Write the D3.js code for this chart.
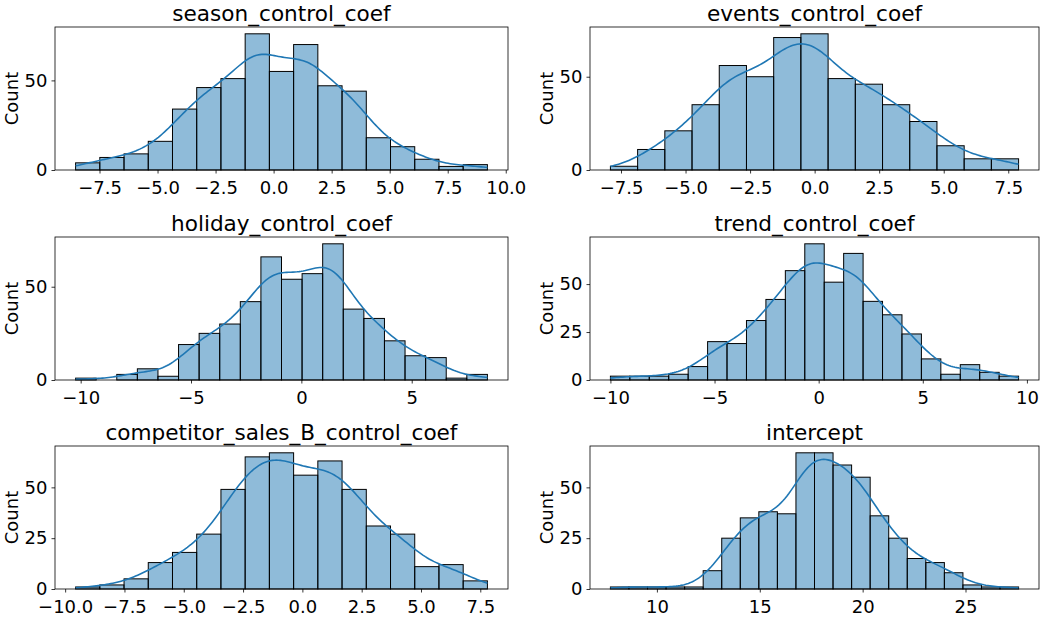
<!DOCTYPE html>
<html>
<head>
<meta charset="utf-8">
<script src="https://cdn.jsdelivr.net/npm/d3@7"></script>
<style>
body { margin: 0; background: #fff; }
text { font-family: "DejaVu Sans", sans-serif; }
</style>
</head>
<body>
<svg id="chart" width="1046" height="619"></svg>
<script>
const titles = ["season_control_coef", "events_control_coef", "holiday_control_coef",
    "trend_control_coef", "competitor_sales_B_control_coef", "intercept"]

// histogram counts per panel
const seasonCounts = [4, 7, 9, 16, 34, 46, 51, 76, 55, 70, 47, 44, 18, 13, 6, 2, 3]
const eventsCounts = [2, 11, 21, 35, 56, 50, 71, 73, 49, 46, 35, 26, 13, 6, 6]
const holidayCounts = [1, 0, 3, 6, 2, 19, 25, 30, 42, 66, 54, 57, 73, 38, 33, 21, 13, 12, 1, 3]
const trendCounts = [2, 2, 2, 3, 7, 20, 19, 31, 42, 57, 71, 51, 66, 41, 34, 24, 11, 3, 8, 4, 2]
const competitorCounts = [1, 2, 5, 13, 18, 27, 49, 65, 67, 56, 63, 49, 31, 27, 11, 12, 4]
const interceptCounts = [1, 1, 1, 1, 1, 9, 25, 35, 38, 37, 67, 67, 61, 55, 36, 25, 15, 13, 8, 2, 1, 1]

// first and last bin edge of each panel
const binRanges = [[-8.53, 9.21], [-7.91, 7.9], [-10.23, 8.43], [-10.0, 9.6], [-9.56, 7.80], [7.74, 27.58]]

const xTicks = [
    [-7.5, -5, -2.5, 0, 2.5, 5, 7.5, 10],
    [-7.5, -5, -2.5, 0, 2.5, 5, 7.5],
    [-10, -5, 0, 5],
    [-10, -5, 0, 5, 10],
    [-10, -7.5, -5, -2.5, 0, 2.5, 5, 7.5],
    [10, 15, 20, 25]
]
const xDecimals = [1, 1, 0, 0, 1, 0]
const yTicks = [[0, 50], [0, 50], [0, 50], [0, 25, 50], [0, 25, 50], [0, 25, 50]]

const allCounts = [seasonCounts, eventsCounts, holidayCounts, trendCounts, competitorCounts, interceptCounts]

const colLeft = [55, 590]
const colWidth = [453, 449]
const rowTop = [27, 237, 446]
const plotH = 143
const blue = "#1f77b4"

const svg = d3.select("#chart")

// gaussian kde over the binned values, scaled to counts like seaborn
const kdeCurve = (counts, lo, hi) => {
    const w = (hi - lo) / counts.length
    const centers = counts.map((c, i) => lo + (i + 0.5) * w)
    const n = d3.sum(counts)
    const mean = d3.sum(counts, (c, i) => c * centers[i]) / n
    const variance = d3.sum(counts, (c, i) => c * (centers[i] - mean) ** 2) / (n - 1)
    const bw = Math.sqrt(variance) * Math.pow(n, -0.2)
    return d3.range(200).map(k => {
        const x = lo + (hi - lo) * k / 199
        let d = 0
        counts.forEach((c, i) => {
            const z = (x - centers[i]) / bw
            d += c * Math.exp(-0.5 * z * z)
        })
        d = d / (n * bw * Math.sqrt(2 * Math.PI))
        return [x, d * n * w]
    })
}

const fmtMinus = s => s.replace("-", "\u2212")

allCounts.forEach((counts, p) => {
    const col = p % 2
    const row = Math.floor(p / 2)
    const width = colWidth[col]
    const [lo, hi] = binRanges[p]
    const span = hi - lo
    const binW = span / counts.length
    const bins = counts.map((c, i) => ({x0: lo + i * binW, x1: lo + (i + 1) * binW, count: c}))
    const kde = kdeCurve(counts, lo, hi)
    const yMax = Math.max(d3.max(counts), d3.max(kde, d => d[1])) * 1.05

    const x = d3.scaleLinear().domain([lo - span * 0.05, hi + span * 0.05]).range([0, width])
    const y = d3.scaleLinear().domain([0, yMax]).range([plotH, 0])

    const g = svg.append("g").attr("transform", `translate(${colLeft[col]},${rowTop[row]})`)

    g.selectAll("rect.bar")
        .data(bins)
        .enter()
        .append("rect")
        .attr("class", "bar")
        .attr("x", d => x(d.x0))
        .attr("y", d => y(d.count))
        .attr("width", d => x(d.x1) - x(d.x0))
        .attr("height", d => plotH - y(d.count))
        .attr("fill", blue)
        .attr("fill-opacity", 0.5)
        .attr("stroke", d => d.count > 0 ? "#000" : "none")
        .attr("stroke-width", 1)

    g.append("path")
        .datum(kde)
        .attr("d", d3.line().x(d => x(d[0])).y(d => y(d[1])))
        .attr("fill", "none")
        .attr("stroke", blue)
        .attr("stroke-width", 1.6)

    const xAxis = d3.axisBottom(x)
        .tickValues(xTicks[p])
        .tickSize(3.5)
        .tickPadding(8)
        .tickFormat(v => fmtMinus(d3.format("." + xDecimals[p] + "f")(v)))
    const yAxis = d3.axisLeft(y)
        .tickValues(yTicks[p])
        .tickSize(3.5)
        .tickPadding(4)
        .tickFormat(d3.format("d"))

    const gx = g.append("g").attr("transform", `translate(0,${plotH})`).call(xAxis)
    const gy = g.append("g").call(yAxis)
    ;[gx, gy].forEach(a => {
        a.select(".domain").remove()
        a.selectAll("line").attr("stroke", "#000").attr("stroke-width", 0.8)
        a.selectAll("text").attr("fill", "#000").style("font-size", "18px")
    })

    g.append("rect")
        .attr("width", width)
        .attr("height", plotH)
        .attr("fill", "none")
        .attr("stroke", "#000")
        .attr("stroke-width", 0.8)

    g.append("text")
        .attr("x", width / 2)
        .attr("y", -6)
        .attr("text-anchor", "middle")
        .style("font-size", "21.6px")
        .text(titles[p])

    g.append("text")
        .attr("transform", `translate(-44,${plotH / 2}) rotate(-90)`)
        .attr("text-anchor", "middle")
        .attr("dominant-baseline", "central")
        .style("font-size", "18px")
        .text("Count")
})
</script>
</body>
</html>
